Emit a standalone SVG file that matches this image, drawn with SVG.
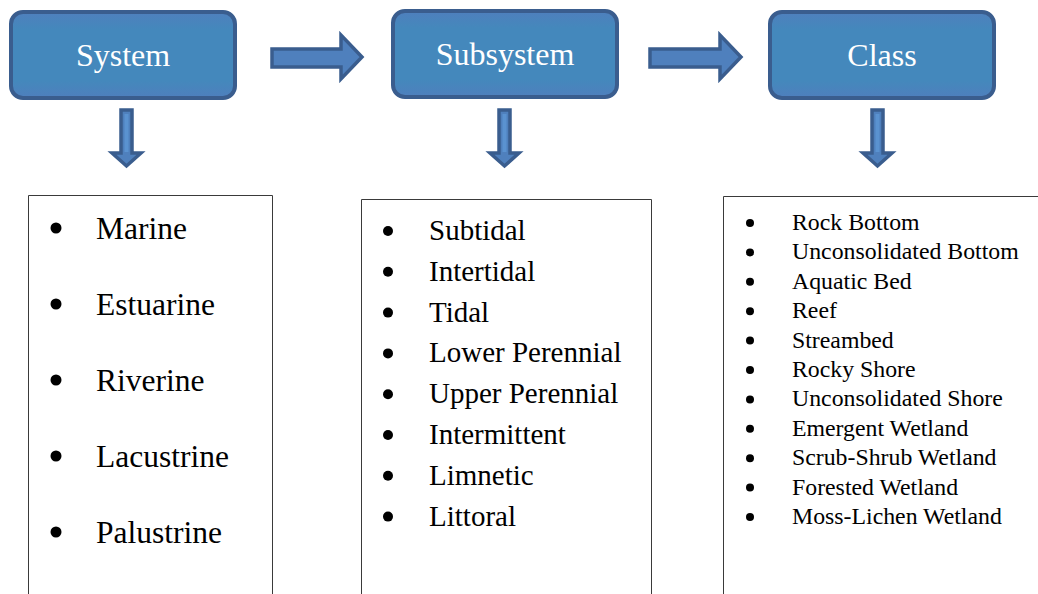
<svg xmlns="http://www.w3.org/2000/svg" width="1038" height="594" viewBox="0 0 1038 594">
<defs>
<linearGradient id="bf" x1="0" y1="0" x2="0" y2="1">
<stop offset="0" stop-color="#4f7fbd"/>
<stop offset="0.2" stop-color="#4488bc"/>
<stop offset="0.8" stop-color="#4488bc"/>
<stop offset="1" stop-color="#4f7fbd"/>
</linearGradient>
<style>
.hdr{fill:url(#bf);stroke:#3a5d8e;stroke-width:4}
.ht{font-family:"Liberation Serif","Times New Roman",serif;font-size:32px;fill:#ffffff;text-anchor:middle}
.arr{fill:#4f80bd;stroke:#3a5d8e;stroke-width:3.5;stroke-linejoin:miter}
.hl{stroke:#5a92d0;stroke-width:4}
.lb{fill:none;stroke:#3a3a3a;stroke-width:1}
.t1{font-family:"Liberation Serif","Times New Roman",serif;font-size:31.5px;fill:#000}
.t2{font-family:"Liberation Serif","Times New Roman",serif;font-size:29px;fill:#000}
.t3{font-family:"Liberation Serif","Times New Roman",serif;font-size:23.8px;fill:#000}
.b{fill:#000}
</style>
</defs>
<rect width="1038" height="594" fill="#ffffff"/>

<g id="node-system">
<rect class="hdr" x="11" y="12" width="224" height="86" rx="12"/>
<text class="ht" x="123" y="66">System</text>
</g>
<g id="node-subsystem">
<rect class="hdr" x="393" y="11" width="224" height="86" rx="12"/>
<text class="ht" x="505" y="65">Subsystem</text>
</g>
<g id="node-class">
<rect class="hdr" x="770" y="12" width="224" height="86" rx="12"/>
<text class="ht" x="882" y="66">Class</text>
</g>

<g id="connectors">
<polygon class="arr" points="272,49 341,49 341,35 362,57 341,79 341,67 272,67"/>
<polygon class="arr" points="650,49 720,49 720,35 741,57 720,79 720,67 650,67"/>
<polygon class="arr" points="121,110 132,110 132,153 141,153 126.5,166 112,153 121,153"/>
<line class="hl" x1="126.5" y1="114" x2="126.5" y2="152"/>
<polygon class="arr" points="499,110 510,110 510,153 519,153 504.5,166 490,153 499,153"/>
<line class="hl" x1="504.5" y1="114" x2="504.5" y2="152"/>
<polygon class="arr" points="872,110 883,110 883,153 892,153 877.5,166 863,153 872,153"/>
<line class="hl" x1="877.5" y1="114" x2="877.5" y2="152"/>
</g>

<g id="node-system-list">
<path class="lb" d="M28.5,600 V195.5 H272.5 V600"/>
<circle class="b" cx="56" cy="228" r="5.5"/><text class="t1" x="96" y="239">Marine</text>
<circle class="b" cx="56" cy="304" r="5.5"/><text class="t1" x="96" y="315">Estuarine</text>
<circle class="b" cx="56" cy="380" r="5.5"/><text class="t1" x="96" y="391">Riverine</text>
<circle class="b" cx="56" cy="456" r="5.5"/><text class="t1" x="96" y="467">Lacustrine</text>
<circle class="b" cx="56" cy="532" r="5.5"/><text class="t1" x="96" y="543">Palustrine</text>
</g>

<g id="node-subsystem-list">
<path class="lb" d="M361.5,600 V199.5 H651.5 V600"/>
<circle class="b" cx="388" cy="231" r="5"/><text class="t2" x="429" y="240">Subtidal</text>
<circle class="b" cx="388" cy="271.8" r="5"/><text class="t2" x="429" y="280.8">Intertidal</text>
<circle class="b" cx="388" cy="312.6" r="5"/><text class="t2" x="429" y="321.6">Tidal</text>
<circle class="b" cx="388" cy="353.4" r="5"/><text class="t2" x="429" y="362.4">Lower Perennial</text>
<circle class="b" cx="388" cy="394.2" r="5"/><text class="t2" x="429" y="403.2">Upper Perennial</text>
<circle class="b" cx="388" cy="435" r="5"/><text class="t2" x="429" y="444">Intermittent</text>
<circle class="b" cx="388" cy="475.8" r="5"/><text class="t2" x="429" y="484.8">Limnetic</text>
<circle class="b" cx="388" cy="516.6" r="5"/><text class="t2" x="429" y="525.6">Littoral</text>
</g>

<g id="node-class-list">
<path class="lb" d="M723.5,600 V196.5 H1040"/>
<circle class="b" cx="750" cy="223" r="4"/><text class="t3" x="792" y="230">Rock Bottom</text>
<circle class="b" cx="750" cy="252.4" r="4"/><text class="t3" x="792" y="259.4">Unconsolidated Bottom</text>
<circle class="b" cx="750" cy="281.8" r="4"/><text class="t3" x="792" y="288.8">Aquatic Bed</text>
<circle class="b" cx="750" cy="311.2" r="4"/><text class="t3" x="792" y="318.2">Reef</text>
<circle class="b" cx="750" cy="340.6" r="4"/><text class="t3" x="792" y="347.6">Streambed</text>
<circle class="b" cx="750" cy="370" r="4"/><text class="t3" x="792" y="377">Rocky Shore</text>
<circle class="b" cx="750" cy="399.4" r="4"/><text class="t3" x="792" y="406.4">Unconsolidated Shore</text>
<circle class="b" cx="750" cy="428.8" r="4"/><text class="t3" x="792" y="435.8">Emergent Wetland</text>
<circle class="b" cx="750" cy="458.2" r="4"/><text class="t3" x="792" y="465.2">Scrub-Shrub Wetland</text>
<circle class="b" cx="750" cy="487.6" r="4"/><text class="t3" x="792" y="494.6">Forested Wetland</text>
<circle class="b" cx="750" cy="517" r="4"/><text class="t3" x="792" y="524">Moss-Lichen Wetland</text>
</g>
</svg>
